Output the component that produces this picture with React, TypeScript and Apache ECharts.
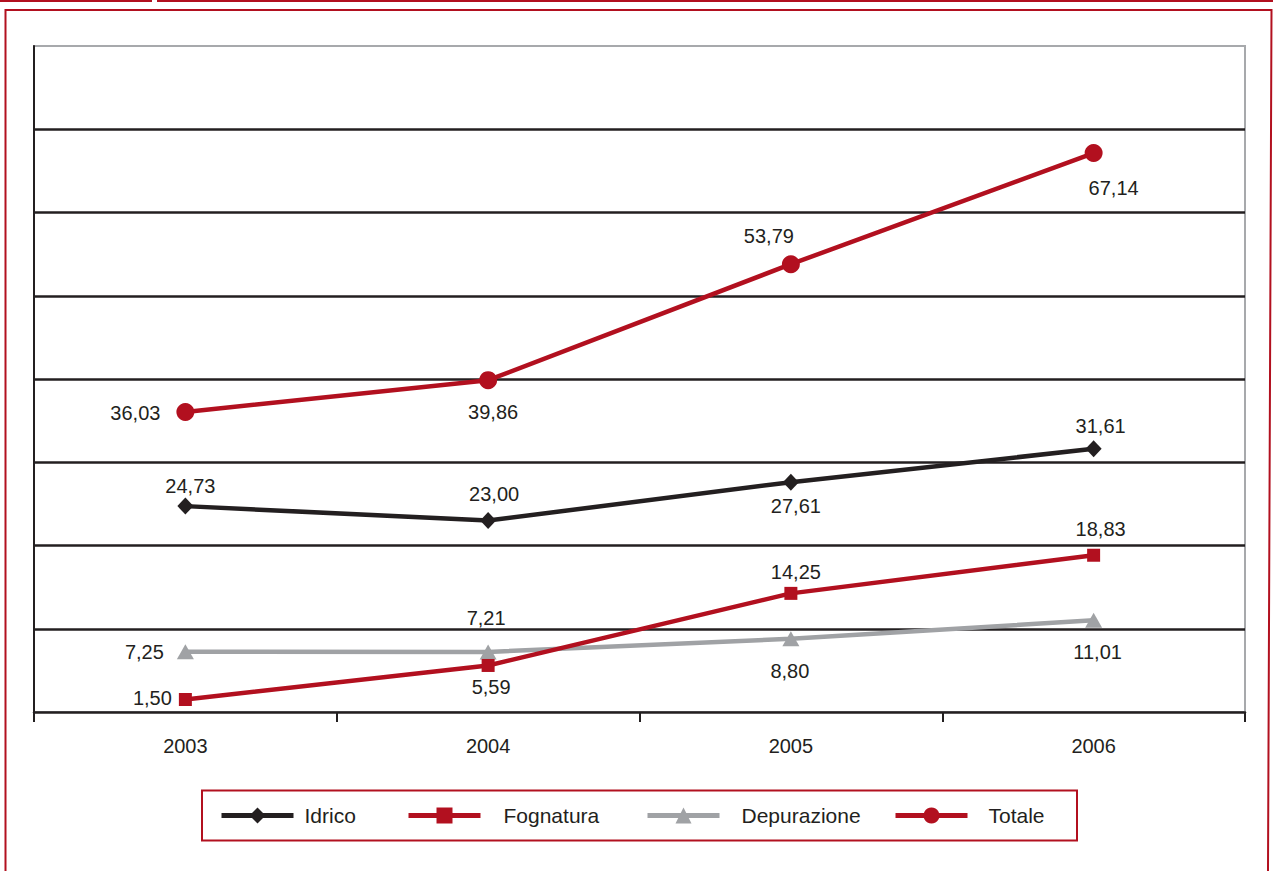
import { useEffect, useRef } from "react";
import * as echarts from "echarts";

// Years on the horizontal axis
const years = ["2003", "2004", "2005", "2006"];

// Series values
const idrico = [24.73, 23.0, 27.61, 31.61];
const fognatura = [1.5, 5.59, 14.25, 18.83];
const depurazione = [7.25, 7.21, 8.8, 11.01];
const totale = [36.03, 39.86, 53.79, 67.14];

// Value axis range
const yMin = 0;
const yMax = 80;
const yStep = 10;

// Where each value label sits relative to its point (px)
const idricoLabelOffsets = [[5, -20], [6, -27], [5, 24], [7, -23]];
const fognaturaLabelOffsets = [[-33, -2], [3, 22], [5, -21], [7, -26]];
const depurazioneLabelOffsets = [[-41, 0], [-2, -34], [-1, 32], [4, 32]];
const totaleLabelOffsets = [[-50, 1], [5, 32], [-22, -28], [20, 35]];

const FONT = "'Liberation Sans', Arial, Helvetica, sans-serif";
const INK = "#231f20";
const RED = "#b2101f";
const GREY = "#a0a2a5";

const fmt = (v: number) => v.toFixed(2).replace(".", ",");

function lineSeries(
  name: string,
  values: number[],
  offsets: number[][],
  color: string,
  symbol: string,
  symbolSize: number | number[],
  z: number
) {
  return {
    type: "line",
    name,
    z,
    data: values.map((v, i) => ({ value: v, label: { offset: offsets[i] } })),
    symbol,
    symbolSize,
    lineStyle: { color, width: 4.5 },
    itemStyle: { color },
    label: {
      show: true,
      position: "inside",
      formatter: (p: any) => fmt(p.value),
      color: INK,
      fontSize: 20,
      fontFamily: FONT,
    },
    emphasis: { disabled: true },
  };
}

const legendItems = [
  { name: "Idrico", left: 219, pad: 6 },
  { name: "Fognatura", left: 406, pad: 18 },
  { name: "Depurazione", left: 645, pad: 17 },
  { name: "Totale", left: 893, pad: 16 },
];

export default function App() {
  const ref = useRef<HTMLDivElement>(null);

  useEffect(() => {
    if (!ref.current) return;
    const chart = echarts.init(ref.current, undefined, { renderer: "svg" });

    chart.setOption({
      animation: false,
      backgroundColor: "#ffffff",
      textStyle: { fontFamily: FONT },
      grid: {
        left: 34,
        right: 28,
        top: 46,
        bottom: 159,
        show: true,
        borderColor: "#a7a9ac",
        borderWidth: 2,
        containLabel: false,
      },
      xAxis: {
        type: "category",
        data: years,
        boundaryGap: true,
        axisLine: { show: true, lineStyle: { color: INK, width: 2.5 } },
        axisTick: { show: true, interval: 0, length: 10, lineStyle: { color: INK, width: 2 } },
        axisLabel: { color: INK, fontSize: 20, fontFamily: FONT, margin: 24 },
        splitLine: { show: false },
      },
      yAxis: {
        type: "value",
        min: yMin,
        max: yMax,
        interval: yStep,
        axisLabel: { show: false },
        axisTick: { show: false },
        axisLine: { show: true, lineStyle: { color: INK, width: 2 } },
        splitLine: {
          show: true,
          showMinLine: false,
          showMaxLine: false,
          lineStyle: { color: INK, width: 2.5 },
        },
      },
      legend: legendItems.map((it) => ({
        data: [it.name],
        left: it.left,
        top: 805,
        padding: 0,
        itemWidth: 72,
        itemHeight: 20,
        selectedMode: false,
        lineStyle: { width: 5 },
        textStyle: {
          fontSize: 21,
          color: INK,
          fontFamily: FONT,
          padding: [0, 0, 0, it.pad],
        },
      })),
      series: [
        lineSeries("Depurazione", depurazione, depurazioneLabelOffsets, GREY, "triangle", [17, 15], 2),
        lineSeries("Idrico", idrico, idricoLabelOffsets, INK, "diamond", [16, 17], 3),
        lineSeries("Fognatura", fognatura, fognaturaLabelOffsets, RED, "rect", 13, 4),
        lineSeries("Totale", totale, totaleLabelOffsets, RED, "circle", 18, 5),
      ],
      graphic: [
        // thin rule along the top edge, with a short break
        { type: "rect", shape: { x: 0, y: 0, width: 152, height: 2 }, style: { fill: RED } },
        { type: "rect", shape: { x: 157, y: 0, width: 1116, height: 2 }, style: { fill: RED } },
        // page frame
        {
          type: "polyline",
          shape: { points: [[5.5, 871], [5.5, 10], [1271.5, 10], [1268, 871]] },
          style: { stroke: RED, lineWidth: 2, fill: null },
        },
        // legend box
        {
          type: "rect",
          shape: { x: 202, y: 790.5, width: 875, height: 50 },
          style: { stroke: RED, lineWidth: 2, fill: null },
        },
      ],
    });

    return () => chart.dispose();
  }, []);

  return (
    <div
      ref={ref}
      style={{ position: "absolute", left: 0, top: 0, width: 1273, height: 871 }}
    />
  );
}
